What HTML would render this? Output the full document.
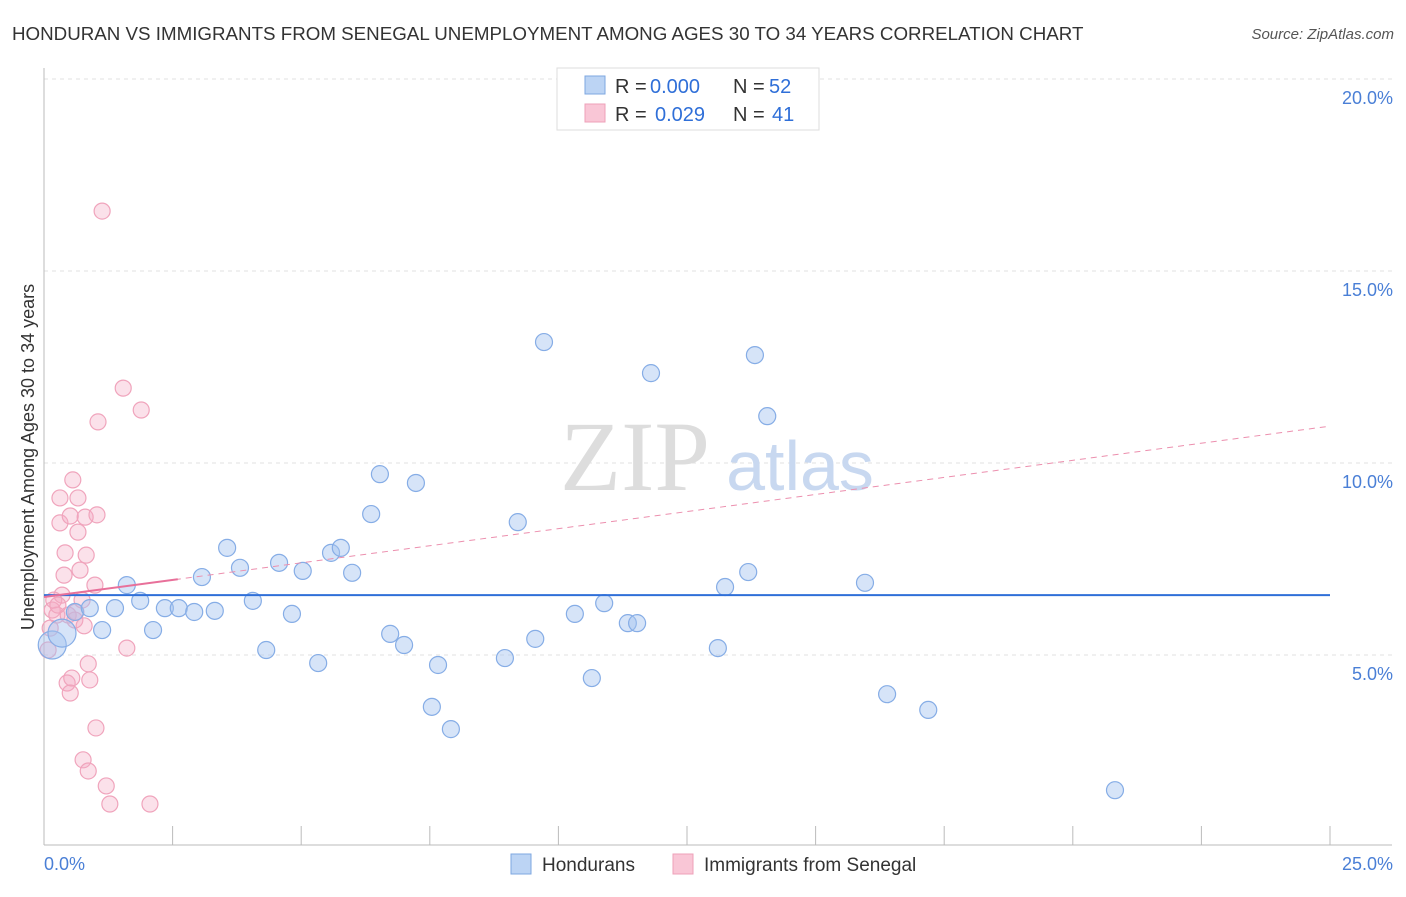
<!DOCTYPE html>
<html><head><meta charset="utf-8"><style>
body{margin:0;background:#fff;font-family:"Liberation Sans",sans-serif;}
svg text{font-family:"Liberation Sans",sans-serif;}
</style></head><body>
<svg id="chart" width="1406" height="892">
<text x="12" y="40" font-size="18.75" fill="#333">HONDURAN VS IMMIGRANTS FROM SENEGAL UNEMPLOYMENT AMONG AGES 30 TO 34 YEARS CORRELATION CHART</text>
<text x="1394" y="39" font-size="15" fill="#555" text-anchor="end" font-style="italic">Source: ZipAtlas.com</text>
<g id="grid"></g>
<text x="635" y="490" font-size="100" fill="#ddd" text-anchor="middle" style="font-family:'Liberation Serif',serif">ZIP</text>
<text x="800" y="490" font-size="70" fill="#c8d8f0" text-anchor="middle">atlas</text>
<g id="marks"></g>
<text transform="translate(34,457) rotate(-90)" font-size="18" fill="#333" text-anchor="middle">Unemployment Among Ages 30 to 34 years</text>
<text x="44" y="870" font-size="18" fill="#4a7fd6">0.0%</text>
<text x="1393" y="870" font-size="18" fill="#4a7fd6" text-anchor="end">25.0%</text>
<g>
<rect x="557" y="68" width="262" height="62" fill="#fff" stroke="#ddd"/>
<rect x="585" y="76" width="20" height="18" fill="#bcd4f4" stroke="#7ea7e0"/>
<rect x="585" y="104" width="20" height="18" fill="#f9c6d6" stroke="#eea0b8"/>
<text x="615" y="93" font-size="20" fill="#333">R =</text>
<text x="650" y="93" font-size="20" fill="#2f6fd8">0.000</text>
<text x="733" y="93" font-size="20" fill="#333">N =</text>
<text x="769" y="93" font-size="20" fill="#2f6fd8">52</text>
<text x="615" y="121" font-size="20" fill="#333">R =</text>
<text x="655" y="121" font-size="20" fill="#2f6fd8">0.029</text>
<text x="733" y="121" font-size="20" fill="#333">N =</text>
<text x="772" y="121" font-size="20" fill="#2f6fd8">41</text>
</g>
<g>
<rect x="511" y="854" width="20" height="20" fill="#bcd4f4" stroke="#7ea7e0"/>
<text x="542" y="871" font-size="19" fill="#333">Hondurans</text>
<rect x="673" y="854" width="20" height="20" fill="#f9c6d6" stroke="#eea0b8"/>
<text x="704" y="871" font-size="19" fill="#333">Immigrants from Senegal</text>
</g>
</svg>
<script>
const yTicks=[5,10,15,20];
const yTickLabels=["5.0%","10.0%","15.0%","20.0%"];
const blueX=[0.16,0.35,0.60,0.89,1.13,1.38,1.61,1.87,2.12,2.35,2.62,2.92,3.07,3.32,3.56,3.81,4.06,4.32,4.57,4.82,5.03,5.33,5.58,5.77,5.99,6.36,6.53,6.73,7.00,7.23,7.54,7.66,7.91,8.96,9.21,9.55,9.72,10.32,10.65,10.89,11.35,11.53,11.80,13.10,13.24,13.69,13.82,14.06,15.96,16.39,17.19,20.82];
const blueY=[5.26,5.57,6.12,6.22,5.65,6.22,6.82,6.41,5.65,6.22,6.22,6.12,7.03,6.15,7.79,7.27,6.41,5.13,7.40,6.07,7.19,4.79,7.66,7.79,7.14,8.67,9.71,5.55,5.26,9.48,3.65,4.74,3.07,4.92,8.46,5.42,13.15,6.07,4.40,6.35,5.83,5.83,12.34,5.18,6.77,7.16,12.81,11.22,6.88,3.98,3.57,1.48];
const pinkX=[0.08,0.12,0.16,0.19,0.25,0.31,0.31,0.35,0.41,0.45,0.47,0.51,0.54,0.56,0.60,0.62,0.66,0.66,0.70,0.74,0.78,0.80,0.82,0.86,0.89,0.99,1.01,1.03,1.05,0.76,0.86,1.13,1.21,1.28,1.54,1.61,1.89,2.06,0.51,0.27,0.39];
const pinkY=[5.13,5.70,6.17,6.43,6.04,8.44,9.09,6.56,7.66,4.27,6.04,4.01,4.40,9.56,5.91,6.12,8.20,9.09,7.21,6.43,5.76,8.59,7.60,4.77,4.35,6.82,3.10,8.65,11.07,2.27,1.98,16.56,1.59,1.12,11.95,5.18,11.38,1.12,8.62,6.30,7.08];
const blueTrend=[6.56,6.56];
const pinkTrend=[6.51,10.96];
const NS="http://www.w3.org/2000/svg";
const X=v=>44+v*51.44, Y=v=>847-v*38.4;
function mk(tag,attrs,parent){const e=document.createElementNS(NS,tag);for(const k in attrs)e.setAttribute(k,attrs[k]);parent.appendChild(e);return e;}
const grid=document.getElementById('grid'), marks=document.getElementById('marks');
yTicks.forEach((t,i)=>{
 const l=mk('line',{x1:44,x2:1392,y1:Y(t),y2:Y(t),stroke:'#e2e2e2','stroke-dasharray':'4,4'},grid);
 
 
 const tx=mk('text',{x:1393,y:Y(t)+25,'font-size':18,fill:'#4a7fd6','text-anchor':'end'},grid);
 tx.textContent=yTickLabels[i];
 
 
});
mk('line',{x1:44,x2:1392,y1:845,y2:845,stroke:'#bbb'},grid);
mk('line',{x1:44,x2:44,y1:68,y2:845,stroke:'#bbb'},grid);
for(let i=0;i<=10;i++){const t=mk('line',{x1:X(i*2.5),x2:X(i*2.5),y1:826,y2:845,stroke:'#bbb'},grid);
 
 }
pinkX.forEach((x,i)=>{const c=mk('circle',{cx:X(x),cy:Y(pinkY[i]),r:8,fill:'rgba(244,168,194,0.35)',stroke:'#f0a4bc','stroke-width':1.2},marks);
 
 });
blueX.forEach((x,i)=>{const c=mk('circle',{cx:X(x),cy:Y(blueY[i]),r:i<2?14:8.5,fill:'rgba(164,196,240,0.45)',stroke:'#86ade6','stroke-width':1.2},marks);
 
 });
const bl=mk('line',{x1:X(0),x2:X(25),y1:Y(blueTrend[0]),y2:Y(blueTrend[1]),stroke:'#2f6fd8','stroke-width':2},marks);


const pd=mk('line',{x1:X(0),x2:X(25),y1:Y(pinkTrend[0]),y2:Y(pinkTrend[1]),stroke:'#ec8fae','stroke-width':1,'stroke-dasharray':'6,5'},marks);


const f=2.6/25, ps=mk('line',{x1:X(0),x2:X(2.6),y1:Y(pinkTrend[0]),y2:Y(pinkTrend[0]+(pinkTrend[1]-pinkTrend[0])*f),stroke:'#e8709a','stroke-width':2},marks);


</script>
</body></html>
